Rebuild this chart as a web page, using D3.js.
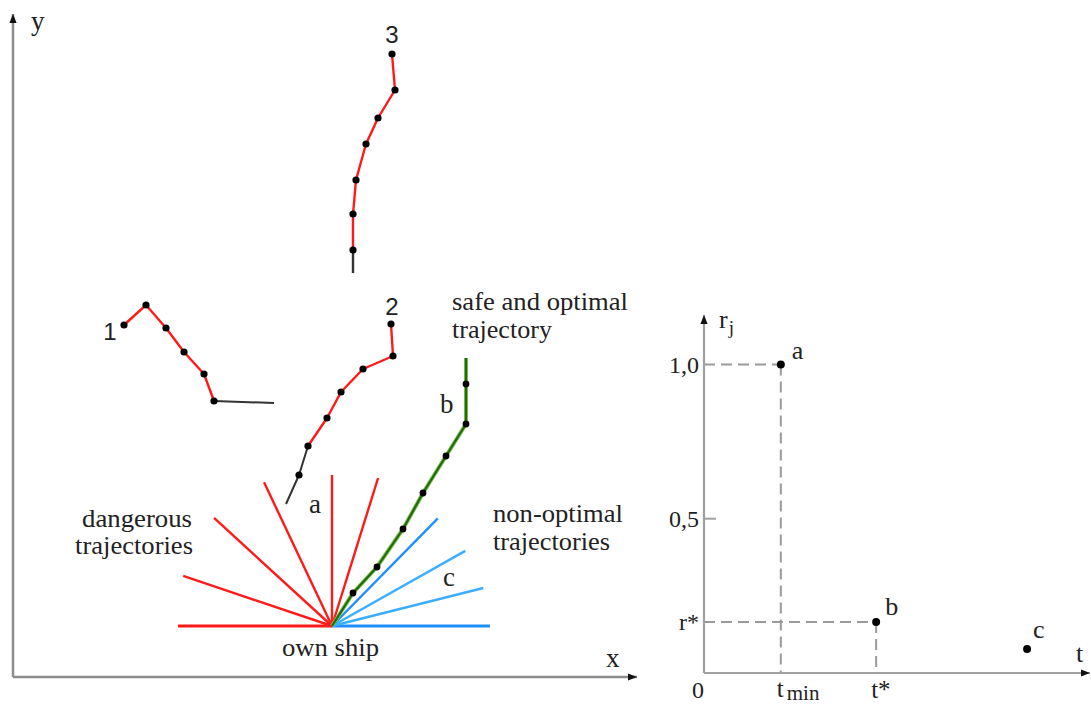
<!DOCTYPE html>
<html>
<head>
<meta charset="utf-8">
<script src="https://cdn.jsdelivr.net/npm/d3@7"></script>
</head>
<body style="margin:0;background:#fff">
<script>
// ---------- DATA (left panel: x/y plane, units) ----------
const ownShip = [31.9, 5.1];
const traj1 = [[11.1,35.2],[13.3,37.2],[15.3,34.9],[17.1,32.5],[19.1,30.3],[20.1,27.6]];
const traj1Tail = [[20.1,27.6],[26.1,27.4]];
const traj2 = [[37.8,35.3],[38.0,32.1],[35.0,30.8],[32.8,28.5],[31.4,25.9],[29.5,23.1]];
const traj2Tail = [[29.5,23.1],[28.6,20.2],[27.3,17.3]];
const traj2TailDots = [[28.6,20.2]];
const traj3 = [[37.9,62.3],[38.2,58.7],[36.5,55.9],[35.3,53.3],[34.3,49.7],[34.0,46.3],[34.0,42.7]];
const traj3Tail = [[34.0,42.7],[34.0,40.4]];
const trajB = [[31.9,5.1],[34.0,8.4],[36.4,11.0],[39.0,14.8],[41.0,18.4],[43.3,22.1],[45.3,25.3],[45.3,29.3],[45.3,31.9]];
const trajBDots = [[34.0,8.4],[36.4,11.0],[39.0,14.8],[41.0,18.4],[43.3,22.1],[45.3,25.3],[45.3,29.3]];
// fan of trajectories from own ship: angle (deg), length (units)
const dangerAngles  = [180, 161.4, 137.5, 115.3, 90, 72.7];
const dangerLengths = [15.4, 15.7, 16.0, 15.9, 15.1, 15.5];
const nonOptAngles  = [0, 14.1, 29.4, 45.5];
const nonOptLengths = [15.8, 15.6, 15.3, 15.1];

// ---------- DATA (right panel: r_j vs t) ----------
const pointNames = ["a", "b", "c"];
const pointT = [1.99, 4.46, 8.37];
const pointR = [1.0, 0.165, 0.078];
const tMin = 1.99, tStar = 4.46, rStar = 0.165;
const rTickValues = [1.0, 0.5, rStar];
const rTickLabels = ["1,0", "0,5", "r*"];

// ---------- SETUP ----------
const W = 1091, H = 704;
const SERIF = '"Liberation Serif"';
const SANS = '"Liberation Sans"';
const INK = "#222";
const svg = d3.select("body").append("svg").attr("width", W).attr("height", H).style("display", "block");

const defs = svg.append("defs");
defs.append("marker").attr("id", "arr").attr("viewBox", "0 0 10 10")
  .attr("refX", 10).attr("refY", 5).attr("markerWidth", 9).attr("markerHeight", 9)
  .attr("markerUnits", "userSpaceOnUse").attr("orient", "auto")
  .append("path").attr("d", "M0,1 L10,5 L0,9 Z").attr("fill", "#111");

function txt(g, x, y, s, size, fam) {
  return g.append("text").attr("x", x).attr("y", y).attr("font-size", size)
    .style("font-family", fam || SERIF).attr("fill", INK).text(s);
}

// Left scales
const xL = d3.scaleLinear().domain([0, 62.4]).range([13, 637]);
const yL = d3.scaleLinear().domain([0, 66.3]).range([677, 14]);
const lineL = d3.line().x(d => xL(d[0])).y(d => yL(d[1]));

const left = svg.append("g");
// axes
left.append("line").attr("x1", xL(0)).attr("y1", yL(0)).attr("x2", xL(0)).attr("y2", yL(66.3))
  .attr("stroke", "#8c8c8c").attr("stroke-width", 2.5).attr("marker-end", "url(#arr)");
left.append("line").attr("x1", xL(0)).attr("y1", yL(0)).attr("x2", xL(62.4)).attr("y2", yL(0))
  .attr("stroke", "#8c8c8c").attr("stroke-width", 2.5).attr("marker-end", "url(#arr)");
txt(left, 31, 30, "y", 27);
txt(left, 606, 667, "x", 27);

// fan
const rad = a => a * Math.PI / 180;
const fanEnd = (ang, len) => [ownShip[0] + len * Math.cos(rad(ang)), ownShip[1] + len * Math.sin(rad(ang))];
dangerAngles.forEach((a, i) => {
  const e = fanEnd(a, dangerLengths[i]);
  left.append("path").attr("d", lineL([ownShip, e])).attr("stroke", "#ff1a1a")
    .attr("stroke-width", a === 180 ? 3 : 2.4).attr("fill", "none");
});
const blueCols = ["#1f8fff", "#3aaeff", "#3aaeff", "#1f8fff"];
nonOptAngles.forEach((a, i) => {
  const e = fanEnd(a, nonOptLengths[i]);
  left.append("path").attr("d", lineL([ownShip, e])).attr("stroke", blueCols[i])
    .attr("stroke-width", a === 0 ? 3 : 2.4).attr("fill", "none");
});

// trajectories
function drawTraj(pts, col, w) {
  left.append("path").attr("d", lineL(pts)).attr("stroke", col).attr("stroke-width", w)
    .attr("fill", "none").attr("stroke-linejoin", "round");
}
function drawDots(pts, r) {
  left.selectAll(null).data(pts).enter().append("circle")
    .attr("cx", d => xL(d[0])).attr("cy", d => yL(d[1])).attr("r", r || 3.6).attr("fill", "#000");
}
drawTraj(traj1Tail, "#333", 2);
drawTraj(traj1, "#ff1a1a", 2.4);
drawDots(traj1);
drawTraj(traj2Tail, "#333", 2);
drawTraj(traj2, "#ff1a1a", 2.4);
drawDots(traj2); drawDots(traj2TailDots);
drawTraj(traj3Tail, "#333", 2.4);
drawTraj(traj3, "#ff1a1a", 2.4);
drawDots(traj3);
drawTraj(trajB, "#7fc24a", 4);
drawTraj(trajB, "#1f6a10", 2.2);
drawDots(trajBDots, 3.4);

// left labels
txt(left, 392, 43, "3", 24, SANS).attr("text-anchor", "middle");
txt(left, 392, 315, "2", 24, SANS).attr("text-anchor", "middle");
txt(left, 110, 340, "1", 24, SANS).attr("text-anchor", "middle");
txt(left, 309, 513, "a", 27);
txt(left, 440, 413, "b", 27);
txt(left, 443, 586, "c", 27);

function label(x, y, s, w) {
  txt(left, x, y, s, 25).attr("textLength", w).attr("lengthAdjust", "spacingAndGlyphs");
}
label(452, 310, "safe and optimal", 176);
label(452, 338, "trajectory", 100);
label(82, 527, "dangerous", 110);
label(75, 554, "trajectories", 118);
label(493, 522, "non-optimal", 130);
label(493, 550, "trajectories", 117);
label(282, 656, "own ship", 97);

// ---------- RIGHT PANEL ----------
const xR = d3.scaleLinear().domain([0, 10]).range([704, 1090]);
const yR = d3.scaleLinear().domain([0, 1.16]).range([673, 315]);
const right = svg.append("g");

// dashed guides
const dash = (x1, y1, x2, y2) => right.append("line").attr("x1", x1).attr("y1", y1).attr("x2", x2).attr("y2", y2)
  .attr("stroke", "#9a9a9a").attr("stroke-width", 2).attr("stroke-dasharray", "11,6");
dash(xR(0), yR(1.0), xR(tMin), yR(1.0));
dash(xR(tMin), yR(1.0), xR(tMin), yR(0));
dash(xR(0), yR(rStar), xR(tStar), yR(rStar));
dash(xR(tStar), yR(rStar), xR(tStar), yR(0));

// axes
right.append("line").attr("x1", xR(0)).attr("y1", yR(0)).attr("x2", xR(0)).attr("y2", yR(1.16))
  .attr("stroke", "#a0a0a0").attr("stroke-width", 2.2).attr("marker-end", "url(#arr)");
right.append("line").attr("x1", xR(0)).attr("y1", yR(0)).attr("x2", xR(10)).attr("y2", yR(0))
  .attr("stroke", "#a0a0a0").attr("stroke-width", 2.2).attr("marker-end", "url(#arr)");
right.append("line").attr("x1", xR(0)).attr("y1", yR(0.5)).attr("x2", xR(0) + 12).attr("y2", yR(0.5))
  .attr("stroke", "#a0a0a0").attr("stroke-width", 2);

// y tick labels via d3 axis
const ay = right.append("g").attr("transform", `translate(${xR(0)},0)`)
  .call(d3.axisLeft(yR).tickValues(rTickValues).tickSize(0).tickPadding(5)
    .tickFormat((d, i) => rTickLabels[i]));
ay.select(".domain").remove();
ay.attr("font-family", null).attr("font-size", null);
ay.selectAll("text").attr("font-size", 24).style("font-family", SERIF).attr("fill", INK);

// x labels
txt(right, xR(0) - 12, 698, "0", 24);
const tm = txt(right, xR(tMin) - 4, 697, null, 25);
tm.append("tspan").text("t");
tm.append("tspan").attr("dx", 3).attr("dy", 3).attr("font-size", 21).text("min");
txt(right, xR(tStar) - 5, 698, "t*", 25);
txt(right, 1076, 662, "t", 26);
const rl = txt(right, 719, 328, null, 26);
rl.append("tspan").text("r");
rl.append("tspan").attr("dx", 1).attr("dy", 6).attr("font-size", 19).text("j");

// points
right.selectAll(null).data(pointT).enter().append("circle")
  .attr("cx", d => xR(d)).attr("cy", (d, i) => yR(pointR[i])).attr("r", 4).attr("fill", "#000");
const lblOff = [[11, -5], [9, -7], [6, -11]];
right.selectAll(null).data(pointNames).enter().append("text")
  .attr("x", (d, i) => xR(pointT[i]) + lblOff[i][0]).attr("y", (d, i) => yR(pointR[i]) + lblOff[i][1])
  .attr("font-size", 26).style("font-family", SERIF).attr("fill", INK).text(d => d);
</script>
</body>
</html>
